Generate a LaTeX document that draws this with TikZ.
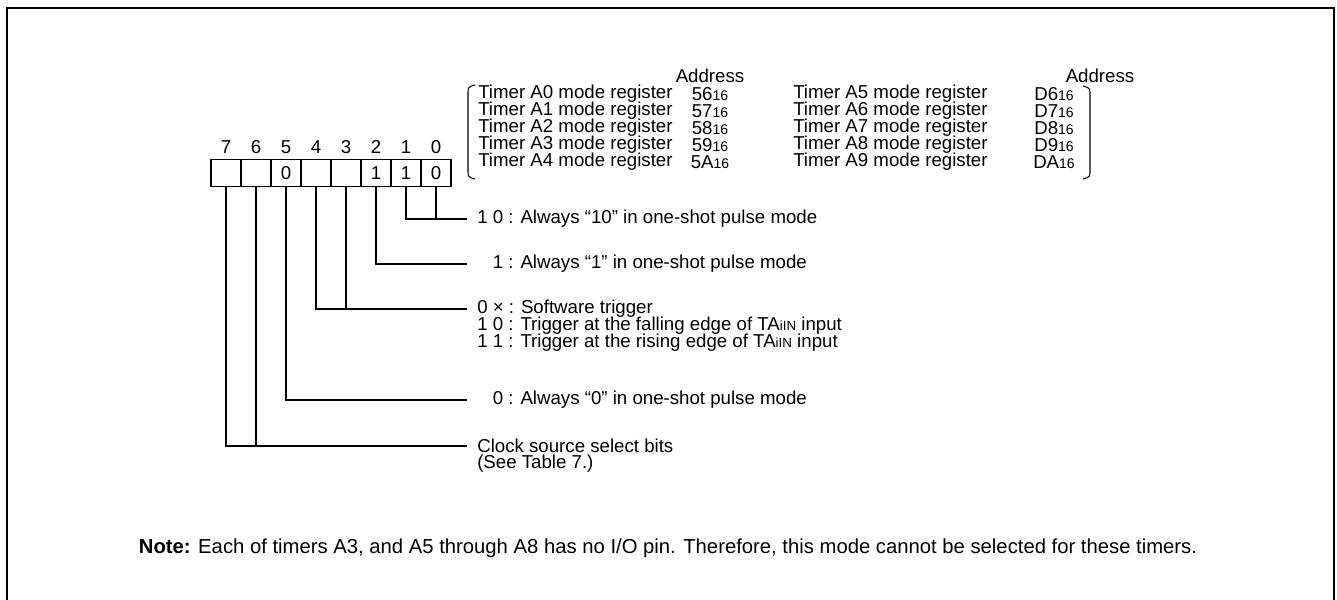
\documentclass[tikz,border=0pt]{standalone}
\usepackage{fontspec}
\setmainfont{Liberation Sans}
\usetikzlibrary{positioning}
\newcommand{\adr}[1]{#1{\fontsize{10.5}{10}\selectfont 16}}
\newcommand{\tain}{TA{\fontsize{10}{10}\selectfont iIN}}
\tikzset{
  bitcell/.style={draw, line width=0.9pt, minimum width=22.5pt, minimum height=20pt, inner sep=0pt, outer sep=0pt},
  lbl/.style={anchor=west, inner xsep=7.5pt, inner ysep=0pt},
  reglbl/.style={anchor=west, inner sep=0pt},
  wire/.style={line width=0.8pt},
}
\begin{document}
\begin{tikzpicture}[x=0.75pt, y=-0.75pt, font=\fontsize{14}{16}\selectfont]
            \useasboundingbox (0,0) rectangle (1337,599);
            \draw [line width=2pt] (7,640)--(7,8)--(1334,8)--(1334,640);
            % registre
            \node[bitcell] (b7) at (226,173) {};
            \node[bitcell, right=0pt of b7] (b6) {};
            \node[bitcell, right=0pt of b6] (b5) {0};
            \node[bitcell, right=0pt of b5] (b4) {};
            \node[bitcell, right=0pt of b4] (b3) {};
            \node[bitcell, right=0pt of b3] (b2) {1};
            \node[bitcell, right=0pt of b2] (b1) {1};
            \node[bitcell, right=0pt of b1] (b0) {0};
            \foreach \i in {0,...,7}
                \node[above=1pt of b\i] (n\i) {\i};
            % adresses
            \node (hda) at (710,76) {Address};
            \node (hdb) at (1100,76) {Address};
            \foreach \i/\a/\b in {0/56/D6, 1/57/D7, 2/58/D8, 3/59/D9, 4/5A/DA} {
                \pgfmathtruncatemacro\j{\i+5}
                \node[reglbl] (ta\i) at (478,{94+17*\i}) {Timer A\i\ mode register};
                \node (aa\i) at (710,{94+17*\i}) {\adr{\a}};
                \node[reglbl] (tb\i) at (793,{94+17*\i}) {Timer A\j\ mode register};
                \node (ab\i) at (1054,{94+17*\i}) {\adr{\b}};
            }
            \draw [wire] (475,85) .. controls (468,87) .. (468,94)--(468,170) .. controls (468,177) .. (475,179);
            \draw [wire] (1083,86) .. controls (1090,88) .. (1090,95)--(1090,170) .. controls (1090,177) .. (1083,179);
            % descriptions
            \node[lbl] (l10) at (467,219) {1 0 : Always “10” in one-shot pulse mode};
            \node[lbl] (l1) at (467,264) {\phantom{1 }1 : Always “1” in one-shot pulse mode};
            \node[lbl] (ltr) at (467,309) {0 × : Software trigger};
            \node[lbl] (ltf) at (467,326) {1 0 : Trigger at the falling edge of \tain\ input};
            \node[lbl] (ltr2) at (467,343) {1 1 : Trigger at the rising edge of \tain\ input};
            \node[lbl] (l0) at (467,400) {\phantom{1 }0 : Always “0” in one-shot pulse mode};
            \node[lbl] (clk) at (467,446) {Clock source select bits};
            \node[lbl] (tbl) at (467,464) {(See Table 7.)};
            \draw [wire] (b0.south) |- (l10.west);
            \draw [wire] (b1.south) |- (l10.west);
            \draw [wire] (b2.south) |- (l1.west);
            \draw [wire] (b3.south) |- (ltr.west);
            \draw [wire] (b4.south) |- (ltr.west);
            \draw [wire] (b5.south) |- (l0.west);
            \draw [wire] (b6.south) |- (clk.west);
            \draw [wire] (b7.south) |- (clk.west);
            \node[font=\fontsize{15.2}{18}\selectfont] (note) at (668,548) {\textbf{Note:} Each of timers A3, and A5 through A8 has no I/O pin. Therefore, this mode cannot be selected for these timers.};
\end{tikzpicture}
\end{document}
